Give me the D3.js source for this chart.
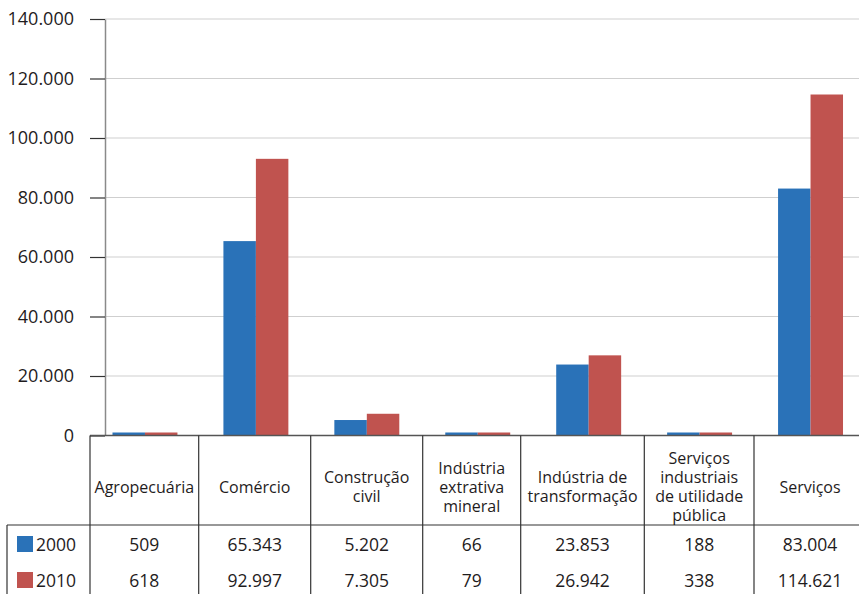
<!DOCTYPE html>
<html><head><meta charset="utf-8">
<script src="https://cdn.jsdelivr.net/npm/d3@7"></script>
<style>
body{margin:0;background:#fff}
svg{display:block}
text{font-family:"Open Sans",sans-serif;fill:#1f1c1d}
</style>
</head><body><svg id="c" width="859" height="594"></svg>
<script>
// ---- data ----
const categories = ["Agropecuária","Comércio","Construção civil","Indústria extrativa mineral","Indústria de transformação","Serviços industriais de utilidade pública","Serviços"];
const categoryLines = [["Agropecuária"],["Comércio"],["Construção","civil"],["Indústria","extrativa","mineral"],["Indústria de","transformação"],["Serviços","industriais","de utilidade","pública"],["Serviços"]];
const seriesNames = ["2000","2010"];
const values2000 = [509,65343,5202,66,23853,188,83004];
const values2010 = [618,92997,7305,79,26942,338,114621];
const yTicks = [0,20000,40000,60000,80000,100000,120000,140000];
const seriesColors = ["#2a72b8","#c0534f"];

// ---- layout ----
const W = 859, H = 594;
const yTop = 19, yZero = 435.5;
const axisX = 105;
const tableCols = [90,198.7,310.7,422.7,520.7,644.3,754,866];
const headerLineY = 525, row1Y = 544.5, row2Y = 580.5;

const svg = d3.select("#c");
const fmt = d3.formatLocale({decimal:",",thousands:".",grouping:[3],currency:["",""]}).format(",");

const y = d3.scaleLinear().domain([0,140000]).range([yZero,yTop]);
const x0 = d3.scaleBand().domain(categories).range([89.5,866]);
const x1 = d3.scaleBand().domain(seriesNames).range([0,x0.bandwidth()]).paddingOuter(0.708);

// grid
svg.append("g").selectAll("line").data(yTicks.filter(t=>t>0)).join("line")
  .attr("x1",axisX).attr("x2",W).attr("y1",d=>y(d)).attr("y2",d=>y(d))
  .attr("stroke","#cfcfcf").attr("stroke-width",1.2);

// bars
const series = [values2000, values2010];
const bars = [];
categories.forEach((c,i)=>seriesNames.forEach((s,j)=>bars.push({c,s,v:series[j][i],j})));
svg.append("g").selectAll("rect").data(bars).join("rect")
  .attr("x",d=>x0(d.c)+x1(d.s))
  .attr("width",x1.bandwidth())
  .attr("y",d=>Math.min(y(d.v), yZero-3))
  .attr("height",d=>yZero-Math.min(y(d.v), yZero-3))
  .attr("fill",d=>seriesColors[d.j]);

// y axis
const yAxis = svg.append("g").attr("transform",`translate(${axisX},0)`)
  .call(d3.axisLeft(y).tickValues(yTicks).tickSize(15).tickSizeOuter(0).tickPadding(16).tickFormat(fmt));
yAxis.select(".domain").attr("stroke","#8a8a8a").attr("stroke-width",1.5);
yAxis.selectAll(".tick line").attr("stroke","#333").attr("stroke-width",1.2);
yAxis.selectAll(".tick text").attr("font-size",18).attr("fill","#1f1c1d").attr("font-family","Open Sans, sans-serif");

// x axis baseline (table top)
svg.append("line").attr("x1",tableCols[0]).attr("x2",W).attr("y1",yZero).attr("y2",yZero)
  .attr("stroke","#555").attr("stroke-width",1.5);

// table lines
svg.append("g").selectAll("line").data(tableCols).join("line")
  .attr("x1",d=>d).attr("x2",d=>d).attr("y1",yZero).attr("y2",H)
  .attr("stroke","#333").attr("stroke-width",1.2);
svg.append("line").attr("x1",7).attr("x2",W).attr("y1",headerLineY).attr("y2",headerLineY)
  .attr("stroke","#333").attr("stroke-width",1.2);
svg.append("line").attr("x1",7).attr("x2",7).attr("y1",headerLineY).attr("y2",H)
  .attr("stroke","#333").attr("stroke-width",1.2);

// header labels
const lh = 19, headerCY = 487;
const colCenter = i => (tableCols[i]+tableCols[i+1])/2;
categoryLines.forEach((lines,i)=>{
  const t = svg.append("text").attr("text-anchor","middle").attr("font-size",16);
  lines.forEach((ln,k)=>{
    t.append("tspan").attr("x",colCenter(i))
     .attr("y",headerCY + (k-(lines.length-1)/2)*lh)
     .attr("dy","0.35em").text(ln);
  });
});

// values rows
[values2000, values2010].forEach((vals,j)=>{
  const ry = j===0?row1Y:row2Y;
  svg.append("g").selectAll("text").data(vals).join("text")
    .attr("x",(d,i)=>colCenter(i)).attr("y",ry).attr("dy","0.35em")
    .attr("text-anchor","middle").attr("font-size",17.5).text(d=>fmt(d));
  svg.append("rect").attr("x",17).attr("y",ry-8.5).attr("width",16).attr("height",16).attr("fill",seriesColors[j]);
  svg.append("text").attr("x",36).attr("y",ry).attr("dy","0.35em").attr("font-size",17.5).text(seriesNames[j]);
});
</script>
</body></html>
